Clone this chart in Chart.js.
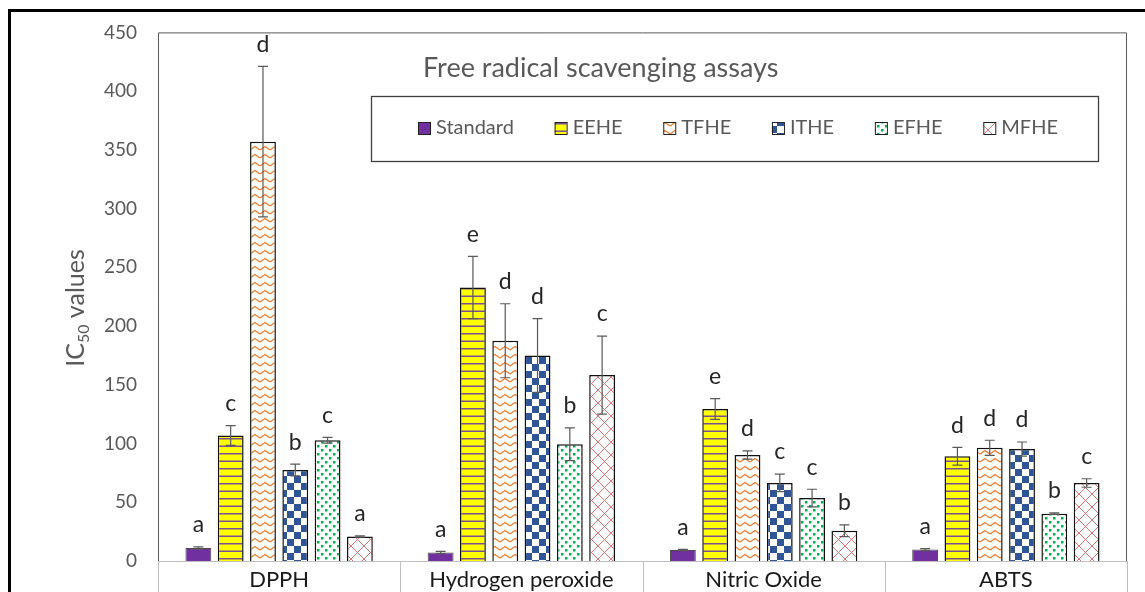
<!DOCTYPE html>
<html>
<head>
<meta charset="utf-8">
<script src="https://cdn.jsdelivr.net/npm/chart.js@4.4.0/dist/chart.umd.min.js"></script>
<style>
  html, body { margin: 0; padding: 0; background: #fff; overflow: hidden; }
  #wrap { position: relative; width: 1145px; height: 592px; overflow: hidden; }
  #frame { position: absolute; left: 8px; top: 9px; width: 1300px; height: 800px; border: 3px solid #000; pointer-events: none; }
  canvas { position: absolute; left: 0; top: 0; }
</style>
</head>
<body>
<div id="wrap">
  <canvas id="chart" width="1145" height="620"></canvas>
  <div id="frame"></div>
</div>
<script>
// data
const categories = ["DPPH", "Hydrogen peroxide", "Nitric Oxide", "ABTS"];

const standardValues = [11.1, 7.2, 9.4, 9.7];
const standardErrors = [1.0, 1.0, 0.5, 0.8];
const standardLetters = ["a", "a", "a", "a"];

const eeheValues = [106.9, 232.8, 129.4, 89.2];
const eeheErrors = [8.4, 26.5, 8.8, 7.5];
const eeheLetters = ["c", "e", "e", "d"];

const tfheValues = [357, 187.5, 90.3, 96.4];
const tfheErrors = [64, 31.5, 3.5, 6.4];
const tfheLetters = ["d", "d", "d", "d"];

const itheValues = [77.5, 175, 66.5, 95.3];
const itheErrors = [5, 31.4, 7.5, 6];
const itheLetters = ["b", "d", "c", "d"];

const efheValues = [102.8, 99.4, 53.6, 40.3];
const efheErrors = [2.5, 14, 7.5, 0.6];
const efheLetters = ["c", "b", "c", "b"];

const mfheValues = [20.8, 158.3, 25.8, 66.4];
const mfheErrors = [0.6, 33.2, 5, 3.6];
const mfheLetters = ["a", "c", "b", "c"];

const yMin = 0, yMax = 450, yStep = 50;

const FONT = "Lato, 'Open Sans', sans-serif";
const GREY = "#595959";

// fill patterns
function makePattern(w, h, draw) {
  const c = document.createElement("canvas");
  c.width = w; c.height = h;
  const g = c.getContext("2d");
  draw(g, w, h);
  return g.createPattern(c, "repeat");
}

const stripes = makePattern(8, 15, (g, w, h) => {
  g.fillStyle = "#ffff00"; g.fillRect(0, 0, w, h);
  g.fillStyle = "#7b4f96";
  g.fillRect(0, 3, w, 1.5);
  g.fillRect(0, 10.5, w, 1.5);
});
const zigzag = makePattern(10, 8, (g, w, h) => {
  g.fillStyle = "#fff"; g.fillRect(0, 0, w, h);
  g.strokeStyle = "#ed7d31"; g.lineWidth = 1.4;
  g.beginPath(); g.moveTo(0, 6); g.lineTo(5, 2.5); g.lineTo(10, 6); g.stroke();
});
const checker = makePattern(14, 14, (g, w, h) => {
  g.fillStyle = "#fff"; g.fillRect(0, 0, w, h);
  g.fillStyle = "#2f5597";
  g.fillRect(0, 0, 7, 7); g.fillRect(7, 7, 7, 7);
});
const dots = makePattern(8, 8, (g, w, h) => {
  g.fillStyle = "#fff"; g.fillRect(0, 0, w, h);
  g.fillStyle = "#00b050";
  g.fillRect(1, 1, 2.5, 2.5); g.fillRect(5, 5, 2.5, 2.5);
});
const lattice = makePattern(13, 13, (g, w, h) => {
  g.fillStyle = "#fff"; g.fillRect(0, 0, w, h);
  g.strokeStyle = "#e07373"; g.lineWidth = 1;
  g.beginPath(); g.moveTo(0, 0); g.lineTo(w, h); g.moveTo(w, 0); g.lineTo(0, h); g.stroke();
});

function series(label, data, errors, letters, fill, border, bw) {
  return {
    label, data, errors, letters,
    backgroundColor: fill, borderColor: border, borderWidth: bw,
    categoryPercentage: 0.8, barPercentage: 0.8
  };
}

const datasets = [
  series("Standard", standardValues, standardErrors, standardLetters, "#7030a0", "#4a4a4a", 1),
  series("EEHE", eeheValues, eeheErrors, eeheLetters, stripes, "#111", 1.5),
  series("TFHE", tfheValues, tfheErrors, tfheLetters, zigzag, "#111", 1.5),
  series("ITHE", itheValues, itheErrors, itheLetters, checker, "#111", 1.5),
  series("EFHE", efheValues, efheErrors, efheLetters, dots, "#111", 1.5),
  series("MFHE", mfheValues, mfheErrors, mfheLetters, lattice, "#111", 1.5)
];

const decor = {
  id: "decor",
  beforeDatasetsDraw(chart) {
    const { ctx, chartArea: a, scales: { x } } = chart;
    ctx.save();
    // plot frame
    ctx.strokeStyle = GREY; ctx.lineWidth = 1;
    ctx.beginPath();
    ctx.moveTo(a.left + 0.5, a.bottom);
    ctx.lineTo(a.left + 0.5, a.top + 0.5);
    ctx.lineTo(a.right - 0.5, a.top + 0.5);
    ctx.lineTo(a.right - 0.5, a.bottom);
    ctx.stroke();
    // category axis and dividers
    ctx.strokeStyle = "#bfbfbf";
    ctx.beginPath();
    ctx.moveTo(a.left, a.bottom + 0.5); ctx.lineTo(a.right, a.bottom + 0.5);
    const n = categories.length;
    for (let i = 0; i <= n; i++) {
      let px;
      if (i === 0) px = a.left;
      else if (i === n) px = a.right;
      else px = (x.getPixelForTick(i - 1) + x.getPixelForTick(i)) / 2;
      px = Math.round(px) + 0.5;
      ctx.moveTo(px, a.bottom); ctx.lineTo(px, chart.height);
    }
    ctx.stroke();
    ctx.restore();
  },
  afterDatasetsDraw(chart) {
    const { ctx, scales: { y } } = chart;
    ctx.save();
    chart.data.datasets.forEach((ds, i) => {
      const meta = chart.getDatasetMeta(i);
      meta.data.forEach((bar, j) => {
        const v = ds.data[j], e = ds.errors[j];
        const top = y.getPixelForValue(v + e);
        const bot = y.getPixelForValue(v - e);
        ctx.strokeStyle = GREY; ctx.lineWidth = 1.2;
        ctx.beginPath();
        ctx.moveTo(bar.x, top); ctx.lineTo(bar.x, bot);
        ctx.moveTo(bar.x - 5, top); ctx.lineTo(bar.x + 5, top);
        ctx.moveTo(bar.x - 5, bot); ctx.lineTo(bar.x + 5, bot);
        ctx.stroke();
        ctx.fillStyle = "#262626";
        ctx.font = "23px " + FONT;
        ctx.textAlign = "center"; ctx.textBaseline = "middle";
        ctx.fillText(ds.letters[j], bar.x, top - 22);
      });
    });
    ctx.restore();
  },
  afterDraw(chart) {
    const { ctx } = chart;
    ctx.save();
    // title
    ctx.fillStyle = GREY;
    ctx.font = "27px " + FONT;
    ctx.textAlign = "left"; ctx.textBaseline = "middle";
    ctx.fillText("Free radical scavenging assays", 423, 68);

    // legend box
    ctx.fillStyle = "#fff";
    ctx.fillRect(371, 96, 727, 65);
    ctx.strokeStyle = "#404040"; ctx.lineWidth = 1.3;
    ctx.strokeRect(371.5, 96.5, 727, 65);
    ctx.font = "20px " + FONT;
    const widths = chart.data.datasets.map(d => ctx.measureText(d.label).width);
    const used = widths.reduce((s, w) => s + w + 18, 0);
    const gap = (1058 - 418 - used) / (widths.length - 1);
    let lx = 418;
    chart.data.datasets.forEach((d, i) => {
      ctx.fillStyle = d.backgroundColor;
      ctx.fillRect(lx, 122, 12, 12);
      ctx.strokeStyle = "#222"; ctx.lineWidth = 1;
      ctx.strokeRect(lx + 0.5, 122.5, 12, 12);
      ctx.fillStyle = GREY;
      ctx.textBaseline = "middle";
      ctx.fillText(d.label, lx + 18, 128);
      lx += widths[i] + 18 + gap;
    });

    // y axis title with subscript
    ctx.translate(75, 308);
    ctx.rotate(-Math.PI / 2);
    ctx.fillStyle = GREY;
    ctx.textBaseline = "alphabetic";
    ctx.font = "25px " + FONT;
    const w1 = ctx.measureText("IC").width;
    const w3 = ctx.measureText(" values").width;
    ctx.font = "16px " + FONT;
    const w2 = ctx.measureText("50").width;
    const sx = -(w1 + w2 + w3) / 2;
    ctx.font = "25px " + FONT;
    ctx.fillText("IC", sx, 9);
    ctx.font = "16px " + FONT;
    ctx.fillText("50", sx + w1, 14);
    ctx.font = "25px " + FONT;
    ctx.fillText(" values", sx + w1 + w2, 9);
    ctx.restore();
  }
};

new Chart(document.getElementById("chart"), {
  type: "bar",
  data: { labels: categories, datasets },
  plugins: [decor],
  options: {
    responsive: false,
    devicePixelRatio: 1,
    animation: false,
    layout: { padding: { left: 0, top: 21, right: 18, bottom: 0 } },
    plugins: { legend: { display: false }, tooltip: { enabled: false } },
    scales: {
      x: {
        grid: { display: false, drawTicks: false },
        border: { display: false },
        ticks: { color: "#1a1a1a", font: { family: FONT, size: 22 }, padding: 6, maxRotation: 0 },
        afterFit: s => { s.height = 59; }
      },
      y: {
        min: yMin, max: yMax,
        grid: { display: false, drawTicks: false },
        border: { display: false },
        ticks: { stepSize: yStep, color: GREY, font: { family: FONT, size: 19 }, padding: 21 },
        afterFit: s => { s.width = 158; }
      }
    }
  }
});
</script>
</body>
</html>
